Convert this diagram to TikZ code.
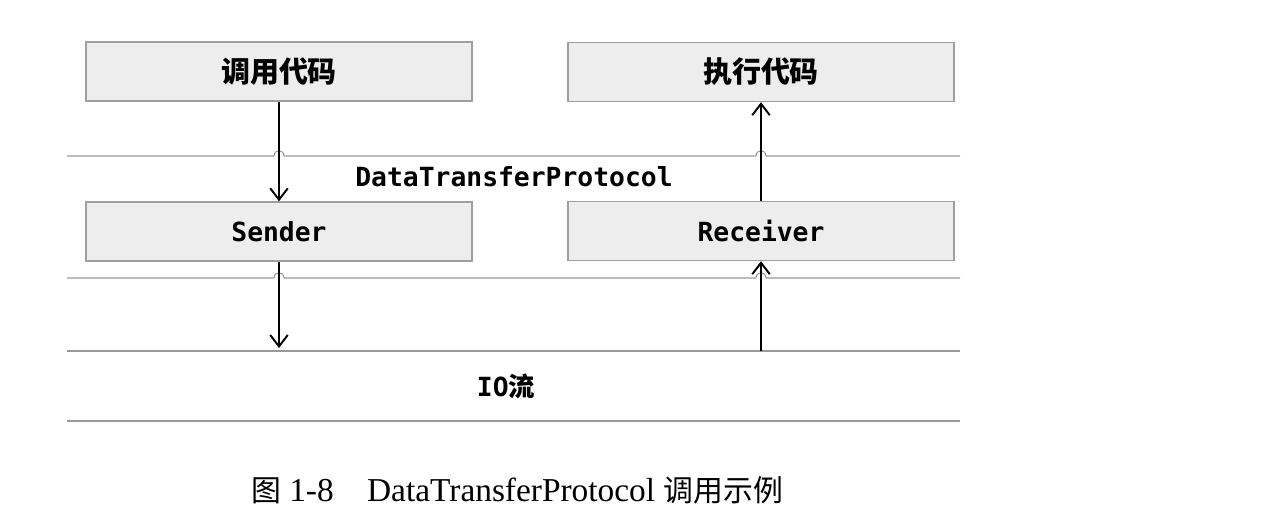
\documentclass[tikz,border=0pt]{standalone}
\usepackage{fontspec}
\setmonofont{DejaVu Sans Mono}
\newfontfamily\cjk{Noto Sans CJK SC}
\newfontfamily\capfont{Liberation Serif}
\usetikzlibrary{arrows.meta}
\tikzset{
  layerbox/.style={draw=gray!75,fill=gray!14,line width=0.8pt,
    minimum width=7.72cm,minimum height=1.18cm,inner sep=0pt},
  layerline/.style={draw=gray!80,line width=0.6pt},
  callarrow/.style={->,line width=1.1pt},
  monolabel/.style={font=\fontsize{15pt}{18pt}\selectfont\ttfamily\bfseries},
  cjklabel/.style={font=\fontsize{16.5pt}{20pt}\selectfont\cjk\bfseries}
}
\begin{document}
\begin{tikzpicture}[x=0.02cm,y=-0.02cm,>={Straight Barb[length=6.5pt,width=10pt]}]
  \useasboundingbox (0,0) rectangle (1268,525);
  %
  % Horizontal layer lines (with hops where the arrows cross)
  \foreach \y in {156,278}
    \draw[layerline] (67,\y) -- (274,\y) to[out=90,in=90,looseness=1.8] (284,\y)
      -- (756,\y) to[out=90,in=90,looseness=1.8] (766,\y) -- (960,\y);
  \foreach \y in {351,421}
    \draw[layerline] (67,\y) -- (960,\y);
  %
  % Boxes
  \node[layerbox,cjklabel] (call) at (279,71.5) {调用代码};
  \node[layerbox,cjklabel] (exec) at (761,72) {执行代码};
  \node[layerbox,monolabel] (sender) at (279,231.5) {Sender};
  \node[layerbox,monolabel] (receiver) at (761,231) {Receiver};
  %
  % Layer labels
  \node[monolabel] (proto) at (514,177) {DataTransferProtocol};
  \node[monolabel] (io) at (506,386) {IO{\cjk 流}};
  %
  % Arrows
  \coordinate (sendOut) at (279,348);
  \coordinate (recvIn) at (761,351);
  \draw[callarrow] (call.south) -- (sender.north);
  \draw[callarrow] (sender.south) -- (sendOut);
  \draw[callarrow] (recvIn) -- (receiver.south);
  \draw[callarrow] (receiver.north) -- (exec.south);
  %
  % Caption
  \node[font=\fontsize{19pt}{23pt}\selectfont\capfont] (caption) at (517,490)
    {{\cjk\fontsize{17pt}{20pt}\selectfont 图} 1-8\hspace{1em}DataTransferProtocol {\cjk\fontsize{17pt}{20pt}\selectfont 调用示例}};
\end{tikzpicture}
\end{document}
